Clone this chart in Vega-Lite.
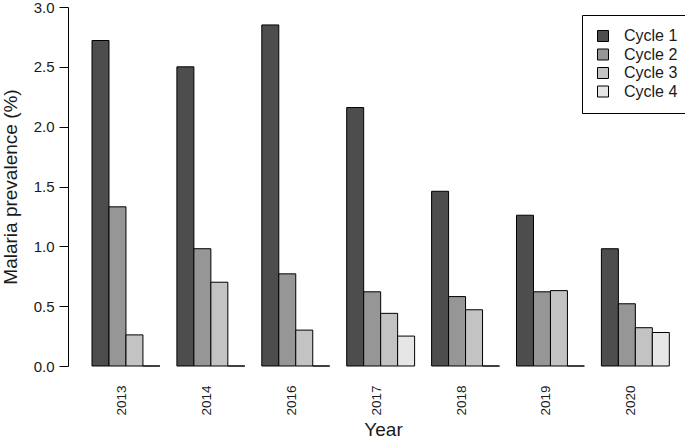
{
  "$schema": "https://vega.github.io/schema/vega-lite/v6.json",
  "width": 612,
  "height": 359,
  "autosize": {"type": "none"},
  "padding": {"left": 68, "top": 7, "right": 5, "bottom": 73},
  "config": {
    "font": "Liberation Sans",
    "view": {"stroke": null},
    "axis": {"grid": false}
  },
  "data": {
    "values": [
      {"Year": "2013", "Cycle": "Cycle 1", "value": 2.72},
      {"Year": "2013", "Cycle": "Cycle 2", "value": 1.33},
      {"Year": "2013", "Cycle": "Cycle 3", "value": 0.26},
      {"Year": "2013", "Cycle": "Cycle 4", "value": 0},
      {"Year": "2014", "Cycle": "Cycle 1", "value": 2.5},
      {"Year": "2014", "Cycle": "Cycle 2", "value": 0.98},
      {"Year": "2014", "Cycle": "Cycle 3", "value": 0.7},
      {"Year": "2014", "Cycle": "Cycle 4", "value": 0},
      {"Year": "2016", "Cycle": "Cycle 1", "value": 2.85},
      {"Year": "2016", "Cycle": "Cycle 2", "value": 0.77},
      {"Year": "2016", "Cycle": "Cycle 3", "value": 0.3},
      {"Year": "2016", "Cycle": "Cycle 4", "value": 0},
      {"Year": "2017", "Cycle": "Cycle 1", "value": 2.16},
      {"Year": "2017", "Cycle": "Cycle 2", "value": 0.62},
      {"Year": "2017", "Cycle": "Cycle 3", "value": 0.44},
      {"Year": "2017", "Cycle": "Cycle 4", "value": 0.25},
      {"Year": "2018", "Cycle": "Cycle 1", "value": 1.46},
      {"Year": "2018", "Cycle": "Cycle 2", "value": 0.58},
      {"Year": "2018", "Cycle": "Cycle 3", "value": 0.47},
      {"Year": "2018", "Cycle": "Cycle 4", "value": 0},
      {"Year": "2019", "Cycle": "Cycle 1", "value": 1.26},
      {"Year": "2019", "Cycle": "Cycle 2", "value": 0.62},
      {"Year": "2019", "Cycle": "Cycle 3", "value": 0.63},
      {"Year": "2019", "Cycle": "Cycle 4", "value": 0},
      {"Year": "2020", "Cycle": "Cycle 1", "value": 0.98},
      {"Year": "2020", "Cycle": "Cycle 2", "value": 0.52},
      {"Year": "2020", "Cycle": "Cycle 3", "value": 0.32},
      {"Year": "2020", "Cycle": "Cycle 4", "value": 0.28}
    ]
  },
  "mark": {"type": "bar", "stroke": "black", "strokeWidth": 1, "opacity": 1},
  "encoding": {
    "x": {
      "field": "Year",
      "type": "nominal",
      "sort": null,
      "scale": {"paddingInner": 0.2, "paddingOuter": 0.2043, "align": 0.692},
      "axis": {
        "title": "Year",
        "titleFontSize": 19,
        "titleFontWeight": "normal",
        "titleColor": "#1a1a1a",
        "titlePadding": 5,
        "titleX": 315,
        "labelAngle": -90,
        "labelAlign": "right",
        "labelBaseline": "alphabetic",
        "labelPadding": 19,
        "labelFontSize": 13.5,
        "labelColor": "#1a1a1a",
        "ticks": false,
        "domain": false
      }
    },
    "xOffset": {
      "field": "Cycle",
      "type": "nominal",
      "scale": {"paddingInner": 0, "paddingOuter": 0}
    },
    "y": {
      "field": "value",
      "type": "quantitative",
      "scale": {"domain": [0, 3], "nice": false, "zero": true},
      "axis": {
        "title": "Malaria prevalence (%)",
        "titleFontSize": 19,
        "titleFontWeight": "normal",
        "titleColor": "#1a1a1a",
        "titlePadding": 13,
        "values": [0, 0.5, 1, 1.5, 2, 2.5, 3],
        "format": ".1f",
        "tickSize": 9,
        "tickColor": "black",
        "domainColor": "black",
        "labelPadding": 5,
        "labelFontSize": 15,
        "labelColor": "#1a1a1a",
        "labelFlush": false,
        "labelOverlap": false
      }
    },
    "fill": {
      "field": "Cycle",
      "type": "nominal",
      "scale": {
        "domain": ["Cycle 1", "Cycle 2", "Cycle 3", "Cycle 4"],
        "range": ["#4D4D4D", "#969696", "#C3C3C3", "#E6E6E6"]
      },
      "legend": {
        "title": null,
        "orient": "none",
        "legendX": 514,
        "legendY": 8,
        "direction": "vertical",
        "symbolType": "square",
        "symbolSize": 121,
        "symbolStrokeColor": "black",
        "symbolStrokeWidth": 1,
        "symbolOpacity": 1,
        "labelFontSize": 16,
        "labelColor": "#1a1a1a",
        "labelOffset": 13,
        "rowPadding": 2.5,
        "padding": 13,
        "strokeColor": "black",
        "fillColor": "white",
        "cornerRadius": 0
      }
    }
  }
}
